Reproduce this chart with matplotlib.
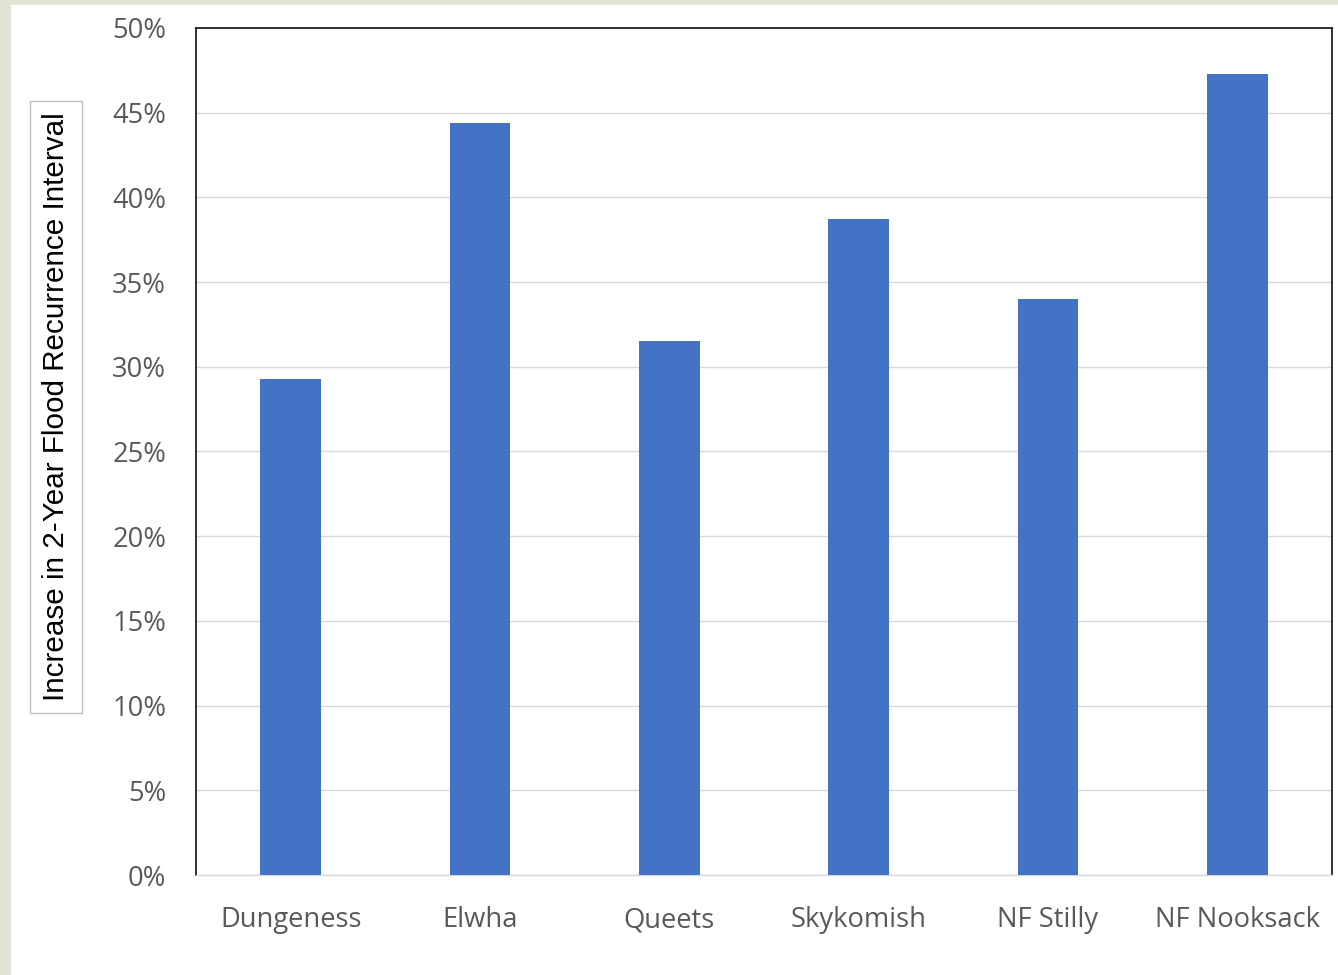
import matplotlib

matplotlib.use("Agg")
import matplotlib.pyplot as plt
from matplotlib.patches import Rectangle
from matplotlib.ticker import FuncFormatter, MultipleLocator

RIVERS = ["Dungeness", "Elwha", "Queets", "Skykomish", "NF Stilly", "NF Nooksack"]
INCREASE = [29.3, 44.4, 31.5, 38.7, 34.0, 47.3]  # percent
YLABEL = "Increase in 2-Year Flood Recurrence Interval"

BLUE = "#4472c4"
GRID = "#d9d9d9"
TICK = "#595959"

fig = plt.figure(figsize=(13.38, 9.75), dpi=100, facecolor="#e4e4d6")
# white slide area over the textured backdrop
fig.patches.append(Rectangle((11 / 1338, 0), 1, 1 - 5 / 975, transform=fig.transFigure,
                             facecolor="white", edgecolor="none", zorder=-10))

ax = fig.add_axes([196 / 1338, 100 / 975, 1136 / 1338, 847 / 975], facecolor="white")
ax.set_zorder(2)
x = range(len(RIVERS))
ax.bar(x, INCREASE, width=0.32, color=BLUE, zorder=3)

ax.set_xlim(-0.5, len(RIVERS) - 0.5)
ax.set_ylim(0, 50)
ax.yaxis.set_major_locator(MultipleLocator(5))
ax.yaxis.set_major_formatter(FuncFormatter(lambda v, _: f"{v:.0f}%"))
ax.set_xticks(list(x))
ax.set_xticklabels(RIVERS)
ax.grid(axis="y", color=GRID, linewidth=1, zorder=0)
ax.tick_params(length=0, labelsize=19.7, labelcolor=TICK)
ax.tick_params(axis="y", pad=21.5)
ax.tick_params(axis="x", pad=22.5)
for lab in ax.get_xticklabels() + ax.get_yticklabels():
    lab.set_family("Open Sans")

for side in ("left", "top", "right"):
    ax.spines[side].set_color("#222222")
    ax.spines[side].set_linewidth(1.3)
ax.spines["bottom"].set_color(GRID)
ax.spines["bottom"].set_linewidth(1)

fig.text(56 / 1338, 1 - 407 / 975, YLABEL, rotation=90, ha="center", va="center",
         fontsize=21.3, family="Liberation Sans", color="black", zorder=3,
         bbox=dict(boxstyle="square,pad=0.4", facecolor="white", edgecolor="#bfbfbf", linewidth=1))

fig.savefig("out.png", dpi=100, facecolor=fig.get_facecolor())
